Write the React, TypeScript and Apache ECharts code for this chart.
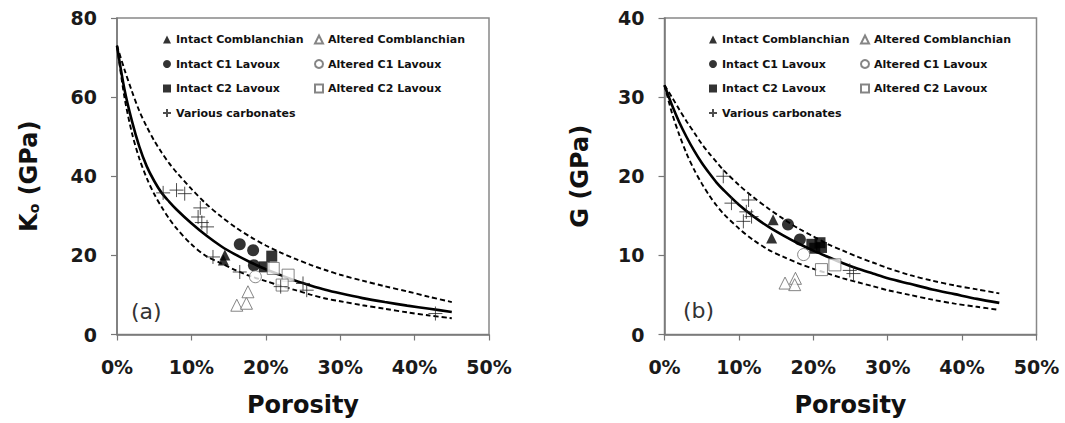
import React, { useEffect, useRef } from 'react';
import * as echarts from 'echarts';

const porosity = [0, 1, 2, 3, 4, 5, 6, 7, 8, 10, 12, 14, 16, 18, 20, 22, 24, 26, 28, 30, 33, 36, 39, 42, 45];

// (a) bulk modulus Ko (GPa) curves
const kMid = [73, 62, 54, 47.5, 42.5, 38.8, 35.8, 33.6, 31.6, 28.1, 25.0, 22.3, 20.1, 18.2, 16.5, 15.0, 13.6, 12.4, 11.3, 10.4, 9.2, 8.2, 7.3, 6.5, 5.7];
const kUpper = [73, 67, 61.5, 56.5, 52.5, 49, 46, 43.3, 41, 36.8, 33, 29.8, 27, 24.6, 22.5, 20.7, 19.1, 17.6, 16.3, 15.1, 13.6, 12.2, 10.9, 9.5, 8.2];
const kLower = [73, 60, 51, 44.5, 39.5, 35.5, 32.2, 29.3, 26.8, 22.8, 19.8, 18.0, 16.2, 14.7, 13.5, 12.3, 11.2, 10.1, 9.1, 8.4, 7.4, 6.5, 5.6, 4.8, 4.1];

// (b) shear modulus G (GPa) curves
const gMid = [31.5, 29, 26.8, 24.9, 23.2, 21.7, 20.4, 19.2, 18.2, 16.4, 14.9, 13.6, 12.5, 11.5, 10.6, 9.8, 9.0, 8.3, 7.7, 7.1, 6.4, 5.7, 5.1, 4.5, 4.0];
const gUpper = [31.5, 30, 28.4, 26.9, 25.5, 24.1, 22.9, 21.8, 20.7, 18.9, 17.3, 15.9, 14.6, 13.4, 12.4, 11.4, 10.6, 9.8, 9.1, 8.4, 7.5, 6.8, 6.2, 5.7, 5.2];
const gLower = [31.5, 28, 25.2, 22.8, 20.8, 19.1, 17.6, 16.3, 15.2, 13.4, 11.9, 10.7, 9.8, 9.0, 8.3, 7.7, 7.1, 6.6, 6.1, 5.6, 5.0, 4.4, 3.9, 3.5, 3.1];

// Measured points [porosity %, modulus GPa]
const intactCombA = [[14.5, 20.1], [14.3, 18.8]];
const intactC1A = [[16.5, 22.8], [18.3, 21.3], [18.4, 17.5]];
const intactC2A = [[20.8, 19.8], [19.8, 17.1]];
const alteredCombA = [[16.1, 7.4], [17.4, 7.9], [17.6, 10.8]];
const alteredC1A = [[18.6, 14.6]];
const alteredC2A = [[21.0, 16.7], [23.0, 15.0], [22.2, 12.5]];
const variousA = [[6.2, 35.8], [8.0, 36.5], [9.1, 35.6], [11.2, 32.0], [10.9, 29.7], [12.1, 27.2], [11.4, 28.3], [12.9, 19.6], [16.5, 15.8], [22.0, 12.1], [25.0, 12.9], [25.5, 11.2], [42.8, 5.3]];

const intactCombB = [[14.6, 14.5], [14.4, 12.2]];
const intactC1B = [[16.6, 13.9], [18.2, 12.0]];
const intactC2B = [[20.9, 11.6], [20.2, 10.9], [19.8, 11.4], [21.1, 11.0]];
const alteredCombB = [[16.2, 6.5], [17.6, 7.1], [17.5, 6.3]];
const alteredC1B = [[18.7, 10.1]];
const alteredC2B = [[21.1, 8.2], [22.9, 8.8]];
const variousB = [[7.9, 20.0], [9.0, 16.6], [11.3, 17.0], [11.0, 15.5], [11.7, 14.9], [10.6, 14.3], [25.4, 7.7], [24.9, 8.1]];

const xTicks = { min: 0, max: 50, interval: 10 };
const legendLeftNames = ['Intact Comblanchian', 'Intact C1 Lavoux', 'Intact C2 Lavoux', 'Various carbonates'];
const legendRightNames = ['Altered Comblanchian', 'Altered C1 Lavoux', 'Altered C2 Lavoux'];

const FONT = 'DejaVu Sans';
const PLUS = 'path://M0,5L10,5M5,0L5,10';

export default function App() {
  const ref = useRef<HTMLDivElement>(null);

  useEffect(() => {
    const chart = echarts.init(ref.current!, null, { renderer: 'svg' });
    const pairs = (ys: number[]) => porosity.map((x, i) => [x, ys[i]]);

    const filled = { color: '#000' };
    const open = { color: '#fff', borderColor: '#666', borderWidth: 1 };
    const plus = { color: '#222', borderColor: '#222', borderWidth: 1 };

    const pointSeries = (idx: number, sets: any[]) => {
      const defs = [
        { name: 'Intact Comblanchian', symbol: 'triangle', size: 11, style: filled },
        { name: 'Intact C1 Lavoux', symbol: 'circle', size: 12, style: filled },
        { name: 'Intact C2 Lavoux', symbol: 'rect', size: 11, style: filled },
        { name: 'Altered Comblanchian', symbol: 'triangle', size: 12, style: open },
        { name: 'Altered C1 Lavoux', symbol: 'circle', size: 12, style: open },
        { name: 'Altered C2 Lavoux', symbol: 'rect', size: 12, style: open },
        { name: 'Various carbonates', symbol: PLUS, size: 14, style: plus },
      ];
      return defs.map((d, i) => ({
        type: 'scatter',
        name: d.name,
        xAxisIndex: idx,
        yAxisIndex: idx,
        symbol: d.symbol,
        symbolSize: d.size,
        itemStyle: d.style,
        data: sets[i],
        z: 3,
      }));
    };

    const curve = (idx: number, name: string, ys: number[], dashed: boolean) => ({
      type: 'line',
      name,
      xAxisIndex: idx,
      yAxisIndex: idx,
      data: pairs(ys),
      showSymbol: false,
      symbol: 'none',
      smooth: 0.3,
      silent: true,
      z: 2,
      lineStyle: dashed
        ? { color: '#000', width: 1.9, type: [5, 3] }
        : { color: '#000', width: 2.6 },
    });

    const grids = [
      { left: 117, top: 18, width: 372, height: 316.5 },
      { left: 664.5, top: 18, width: 372, height: 316.5 },
    ].map((g) => ({ ...g, show: true, borderColor: '#888', borderWidth: 1.5, backgroundColor: 'transparent' }));

    const xAxis = [0, 1].map((i) => ({
      gridIndex: i,
      type: 'value',
      ...xTicks,
      name: 'Porosity',
      nameLocation: 'middle',
      nameGap: 58,
      nameTextStyle: { fontFamily: FONT, fontWeight: 'bold', fontSize: 24, color: '#111', verticalAlign: 'top' },
      axisLine: { show: true, onZero: false, lineStyle: { color: '#777', width: 1.5 } },
      axisTick: { show: true, inside: false, length: 6, lineStyle: { color: '#777', width: 1.2 } },
      axisLabel: { formatter: '{value}%', fontFamily: FONT, fontWeight: 'bold', fontSize: 19, color: '#1a1a1a', margin: 23 },
      splitLine: { show: false },
    }));

    const yName = (main: string, sub: string) => (sub ? `{k|${main}}{s|${sub}}{k| (GPa)}` : `{k|${main} (GPa)}`);
    const yRich = {
      k: { fontFamily: FONT, fontWeight: 'bold', fontSize: 24, color: '#111' },
      s: { fontFamily: FONT, fontWeight: 'bold', fontSize: 14, color: '#111', verticalAlign: 'bottom', padding: [10, 0, 0, 0] },
    };
    const yAxis = [
      { gridIndex: 0, min: 0, max: 80, interval: 20, name: yName('K', 'o'), nameGap: 76 },
      { gridIndex: 1, min: 0, max: 40, interval: 10, name: yName('G', ''), nameGap: 73 },
    ].map((a) => ({
      ...a,
      type: 'value',
      nameLocation: 'middle',
      nameTextStyle: { rich: yRich },
      axisLine: { show: true, onZero: false, lineStyle: { color: '#777', width: 1.5 } },
      axisTick: { show: true, inside: false, length: 6, lineStyle: { color: '#777', width: 1.2 } },
      axisLabel: { fontFamily: FONT, fontWeight: 'bold', fontSize: 19, color: '#1a1a1a', margin: 20 },
      splitLine: { show: false },
    }));

    const legendBase = {
      orient: 'vertical',
      selectedMode: false,
      padding: 0,
      itemGap: 13.5,
      itemWidth: 8,
      itemHeight: 8,
      textStyle: { fontFamily: FONT, fontSize: 11, fontWeight: 'bold', color: '#111' },
    };
    const legend = [
      { ...legendBase, left: 162, top: 34, data: legendLeftNames },
      { ...legendBase, left: 314, top: 34, data: legendRightNames },
      { ...legendBase, left: 708, top: 34, data: legendLeftNames },
      { ...legendBase, left: 860, top: 34, data: legendRightNames },
    ];

    const titleStyle = { fontFamily: FONT, fontSize: 22, fontWeight: 'normal', color: '#333' };
    const option = {
      animation: false,
      backgroundColor: '#fff',
      title: [
        { text: '(a)', left: 131, top: 300, padding: 0, textStyle: titleStyle },
        { text: '(b)', left: 683, top: 299, padding: 0, textStyle: titleStyle },
      ],
      grid: grids,
      xAxis,
      yAxis,
      legend,
      series: [
        curve(0, 'Ko model', kMid, false),
        curve(0, 'Ko upper', kUpper, true),
        curve(0, 'Ko lower', kLower, true),
        curve(1, 'G model', gMid, false),
        curve(1, 'G upper', gUpper, true),
        curve(1, 'G lower', gLower, true),
        ...pointSeries(0, [intactCombA, intactC1A, intactC2A, alteredCombA, alteredC1A, alteredC2A, variousA]),
        ...pointSeries(1, [intactCombB, intactC1B, intactC2B, alteredCombB, alteredC1B, alteredC2B, variousB]),
      ],
    };
    chart.setOption(option as any);
    return () => chart.dispose();
  }, []);

  return <div ref={ref} style={{ position: 'absolute', left: 0, top: 0, width: 1065, height: 423 }} />;
}
